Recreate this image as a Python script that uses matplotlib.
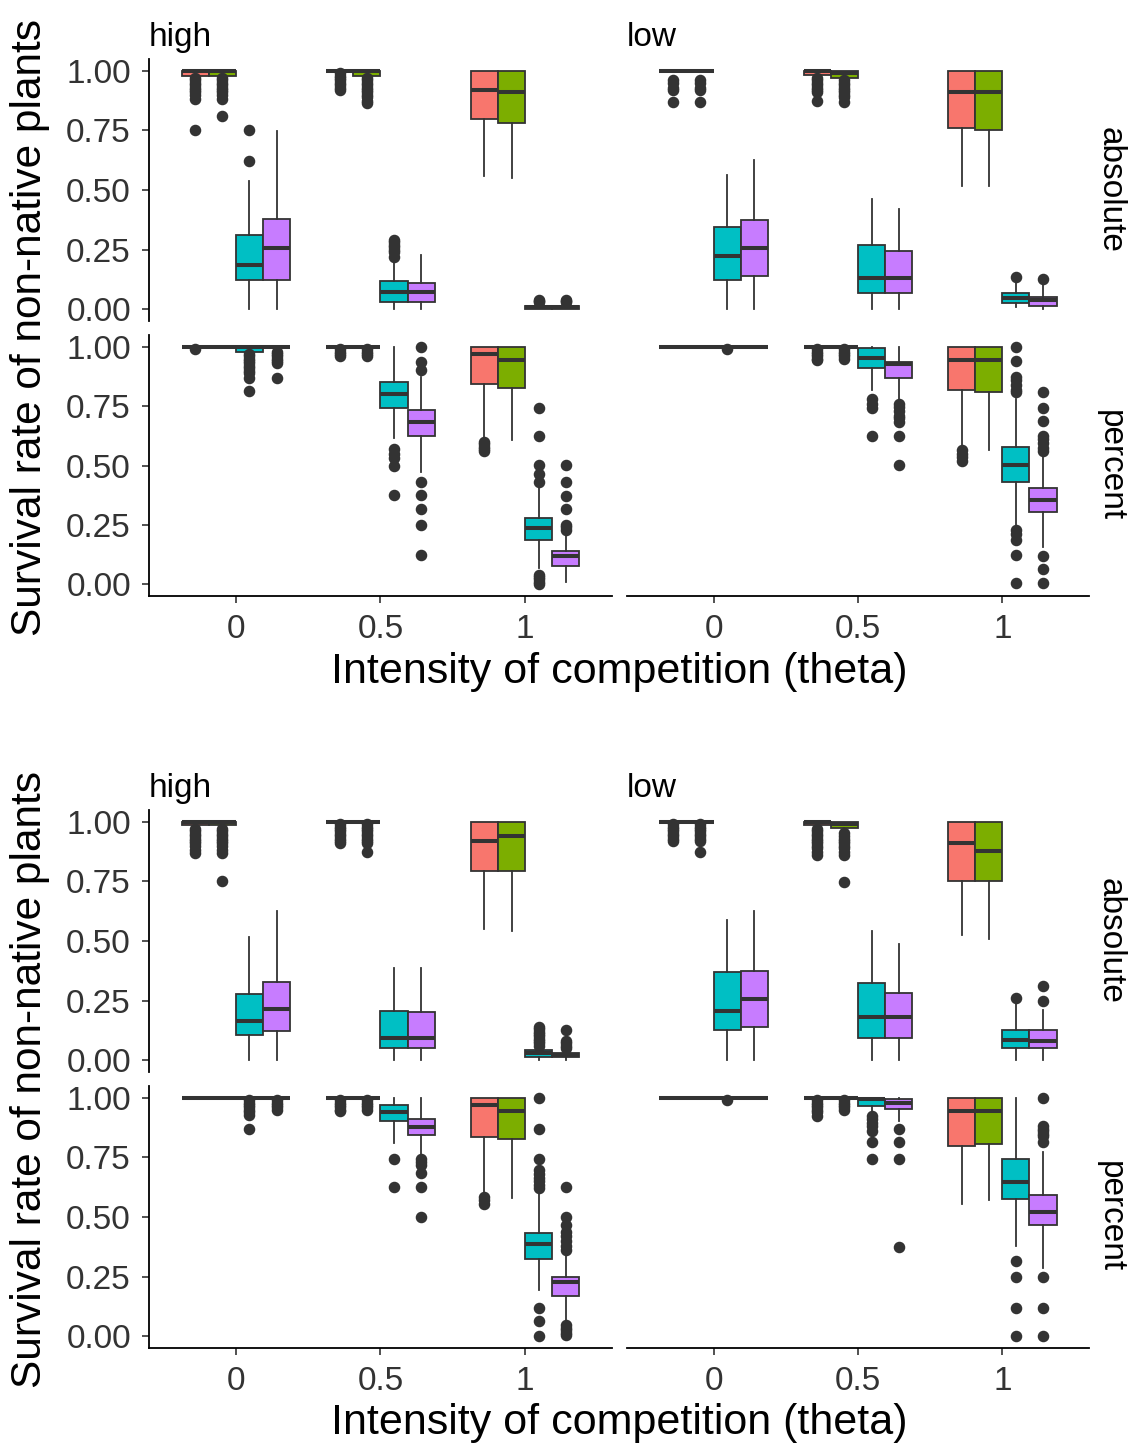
import matplotlib
matplotlib.use('Agg')
import matplotlib.pyplot as plt

plt.rcParams['font.family'] = ['Liberation Sans', 'DejaVu Sans']

# x categories (theta) and fill groups
theta = ['0', '0.5', '1']
group_colors = ['#F8766D', '#7CAE00', '#00BFC4', '#C77CFF']
y_ticks = [0.0, 0.25, 0.5, 0.75, 1.0]
y_ticklabels = ['0.00', '0.25', '0.50', '0.75', '1.00']

ONE = (1.0, 1.0, 1.0, 1.0, 1.0)

# box stats: (whislo, q1, med, q3, whishi); order = theta 0, 0.5, 1 x groups 1..4
top_abs_high_box = [
    (0.975, 0.98, 1.0, 1.0, 1.0), (0.975, 0.98, 1.0, 1.0, 1.0), (0.0, 0.124, 0.187, 0.31, 0.538), (0.0, 0.124, 0.255, 0.378, 0.748),
    ONE, (0.975, 0.98, 1.0, 1.0, 1.0), (0.0, 0.031, 0.073, 0.117, 0.21), (0.0, 0.031, 0.07, 0.108, 0.229),
    (0.558, 0.796, 0.92, 1.0, 1.0), (0.551, 0.782, 0.912, 1.0, 1.0), (0.0, 0.0, 0.01, 0.015, 0.02), (0.0, 0.0, 0.01, 0.015, 0.02),
]
top_abs_high_out = [
    [0.97, 0.96, 0.95, 0.94, 0.93, 0.92, 0.91, 0.90, 0.88, 0.75], [0.97, 0.96, 0.95, 0.94, 0.93, 0.92, 0.91, 0.90, 0.88, 0.81], [0.62, 0.75], [],
    [0.99, 0.98, 0.97, 0.96, 0.95, 0.94, 0.93, 0.92], [0.97, 0.96, 0.95, 0.94, 0.93, 0.92, 0.91, 0.90, 0.89, 0.875, 0.865], [0.22, 0.24, 0.25, 0.26, 0.27, 0.28, 0.29], [],
    [], [], [0.03, 0.035, 0.04], [0.03, 0.035, 0.04],
]
top_abs_low_box = [
    ONE, ONE, (0.0, 0.124, 0.222, 0.345, 0.565), (0.0, 0.138, 0.255, 0.376, 0.625),
    (0.975, 0.982, 1.0, 1.0, 1.0), (0.97, 0.972, 0.99, 1.0, 1.0), (0.0, 0.066, 0.129, 0.268, 0.464), (0.0, 0.066, 0.131, 0.243, 0.422),
    (0.516, 0.762, 0.912, 1.0, 1.0), (0.516, 0.754, 0.912, 1.0, 1.0), (0.01, 0.024, 0.045, 0.066, 0.108), (0.0, 0.014, 0.04, 0.052, 0.105),
]
top_abs_low_out = [
    [0.96, 0.95, 0.93, 0.92, 0.87], [0.96, 0.95, 0.93, 0.92, 0.87], [], [],
    [0.97, 0.96, 0.95, 0.94, 0.93, 0.92, 0.91, 0.874], [0.96, 0.95, 0.94, 0.93, 0.92, 0.91, 0.90, 0.89, 0.87], [], [],
    [], [], [0.133], [0.125],
]
top_pct_high_box = [
    ONE, ONE, (0.975, 0.979, 1.0, 1.0, 1.0), ONE,
    ONE, ONE, (0.617, 0.743, 0.803, 0.853, 1.0), (0.473, 0.624, 0.684, 0.736, 0.874),
    (0.62, 0.845, 0.969, 1.0, 1.0), (0.607, 0.827, 0.944, 1.0, 1.0), (0.066, 0.185, 0.235, 0.28, 0.41), (0.01, 0.076, 0.118, 0.139, 0.22),
]
top_pct_high_out = [
    [0.993], [], [0.97, 0.96, 0.95, 0.94, 0.93, 0.92, 0.91, 0.90, 0.89, 0.87, 0.813], [0.98, 0.97, 0.96, 0.95, 0.94, 0.93, 0.87],
    [0.99, 0.98, 0.97, 0.96], [0.99, 0.98, 0.97, 0.96], [0.57, 0.55, 0.53, 0.50, 0.375], [1.0, 0.937, 0.902, 0.431, 0.375, 0.315, 0.249, 0.122],
    [0.60, 0.59, 0.58, 0.57, 0.56], [], [0.744, 0.624, 0.501, 0.463, 0.431, 0.04, 0.03, 0.02, 0.01, 0.0], [0.501, 0.431, 0.372, 0.315, 0.25, 0.24, 0.23],
]
top_pct_low_box = [
    ONE, ONE, ONE, ONE,
    ONE, ONE, (0.817, 0.913, 0.951, 0.997, 1.0), (0.782, 0.869, 0.927, 0.937, 1.0),
    (0.572, 0.82, 0.944, 1.0, 1.0), (0.565, 0.81, 0.944, 1.0, 1.0), (0.249, 0.431, 0.504, 0.576, 0.782), (0.157, 0.305, 0.354, 0.407, 0.558),
]
top_pct_low_out = [
    [], [], [0.99], [],
    [0.99, 0.98, 0.97, 0.96, 0.95, 0.944], [0.99, 0.98, 0.97, 0.96, 0.95], [0.782, 0.76, 0.744, 0.624], [0.76, 0.747, 0.73, 0.71, 0.70, 0.684, 0.624, 0.501],
    [0.565, 0.55, 0.535, 0.52], [], [1.0, 0.94, 0.874, 0.86, 0.84, 0.82, 0.81, 0.228, 0.21, 0.188, 0.122, 0.003],
    [0.81, 0.744, 0.688, 0.624, 0.61, 0.593, 0.575, 0.562, 0.118, 0.062, 0.003],
]
bot_abs_high_box = [
    (0.975, 0.986, 1.0, 1.0, 1.0), (0.975, 0.986, 1.0, 1.0, 1.0), (0.0, 0.105, 0.164, 0.276, 0.515), (0.0, 0.123, 0.213, 0.327, 0.624),
    ONE, ONE, (0.0, 0.049, 0.094, 0.208, 0.386), (0.0, 0.049, 0.094, 0.2, 0.386),
    (0.551, 0.792, 0.921, 1.0, 1.0), (0.543, 0.792, 0.94, 1.0, 1.0), (0.0, 0.014, 0.028, 0.042, 0.05), (0.0, 0.014, 0.02, 0.03, 0.04),
]
bot_abs_high_out = [
    [0.97, 0.96, 0.95, 0.94, 0.93, 0.92, 0.91, 0.90, 0.88, 0.87], [0.97, 0.96, 0.95, 0.94, 0.93, 0.92, 0.91, 0.90, 0.88, 0.87, 0.75], [], [],
    [0.99, 0.98, 0.97, 0.96, 0.95, 0.94, 0.93, 0.92, 0.91], [0.99, 0.98, 0.97, 0.96, 0.95, 0.94, 0.93, 0.92, 0.91, 0.874], [], [],
    [], [], [0.06, 0.07, 0.08, 0.09, 0.10, 0.11, 0.12, 0.13, 0.14], [0.05, 0.06, 0.07, 0.08, 0.126],
]
bot_abs_low_box = [
    ONE, ONE, (0.0, 0.126, 0.206, 0.369, 0.589), (0.0, 0.14, 0.255, 0.376, 0.624),
    (0.975, 0.986, 1.0, 1.0, 1.0), (0.97, 0.975, 0.99, 1.0, 1.0), (0.0, 0.091, 0.18, 0.325, 0.54), (0.0, 0.091, 0.18, 0.283, 0.488),
    (0.526, 0.75, 0.912, 1.0, 1.0), (0.509, 0.75, 0.879, 1.0, 1.0), (0.0, 0.049, 0.084, 0.126, 0.24), (0.0, 0.049, 0.081, 0.126, 0.21),
]
bot_abs_low_out = [
    [0.99, 0.98, 0.97, 0.96, 0.95, 0.94, 0.93, 0.92], [0.99, 0.98, 0.97, 0.96, 0.95, 0.94, 0.93, 0.92, 0.874], [], [],
    [0.97, 0.96, 0.95, 0.94, 0.93, 0.92, 0.91, 0.90, 0.89, 0.875, 0.862], [0.955, 0.94, 0.93, 0.92, 0.91, 0.90, 0.89, 0.875, 0.862, 0.748], [], [],
    [], [], [0.26], [0.25, 0.311],
]
bot_pct_high_box = [
    ONE, ONE, ONE, ONE,
    ONE, ONE, (0.81, 0.904, 0.941, 0.972, 1.0), (0.754, 0.846, 0.876, 0.913, 1.0),
    (0.593, 0.836, 0.972, 1.0, 1.0), (0.581, 0.827, 0.944, 1.0, 1.0), (0.192, 0.322, 0.385, 0.431, 0.607), (0.052, 0.167, 0.228, 0.246, 0.354),
]
bot_pct_high_out = [
    [], [], [0.99, 0.98, 0.97, 0.96, 0.95, 0.94, 0.93, 0.871], [0.99, 0.98, 0.97, 0.96, 0.95],
    [0.99, 0.98, 0.97, 0.96, 0.95, 0.944], [0.99, 0.98, 0.97, 0.96, 0.95], [0.744, 0.625], [0.744, 0.73, 0.72, 0.684, 0.625, 0.499],
    [0.585, 0.57, 0.555], [], [1.0, 0.871, 0.744, 0.698, 0.68, 0.665, 0.65, 0.635, 0.62, 0.119, 0.063, 0.0],
    [0.628, 0.501, 0.466, 0.438, 0.42, 0.40, 0.38, 0.361, 0.045, 0.035, 0.025, 0.015, 0.005],
]
bot_pct_low_box = [
    ONE, ONE, ONE, ONE,
    ONE, ONE, (0.937, 0.965, 0.995, 0.997, 1.0), (0.902, 0.954, 0.979, 0.997, 1.0),
    (0.555, 0.796, 0.944, 1.0, 1.0), (0.572, 0.806, 0.944, 1.0, 1.0), (0.378, 0.574, 0.649, 0.744, 1.0), (0.284, 0.466, 0.522, 0.593, 0.775),
]
bot_pct_low_out = [
    [], [], [0.99], [],
    [0.99, 0.98, 0.97, 0.96, 0.95, 0.94, 0.923], [0.99, 0.98, 0.97, 0.96, 0.95], [0.923, 0.91, 0.895, 0.88, 0.86, 0.813, 0.744], [0.871, 0.813, 0.744, 0.372],
    [], [], [0.315, 0.249, 0.119, 0.0], [1.0, 0.88, 0.87, 0.86, 0.85, 0.84, 0.813, 0.249, 0.119, 0.0],
]

W, H = 1136, 1445
EDGE = '#333333'
fig = plt.figure(figsize=(W / 100, H / 100), dpi=100)


def px_axes(x0, y0, x1, y1):
    return fig.add_axes([x0 / W, 1 - y1 / H, (x1 - x0) / W, (y1 - y0) / H])


def draw_panel(ax, boxes, outs, left, bottom):
    stats = []
    pos = []
    for i, (b, o) in enumerate(zip(boxes, outs)):
        cat = i // 4
        g = i % 4
        stats.append(dict(whislo=b[0], q1=b[1], med=b[2], q3=b[3], whishi=b[4], fliers=o))
        pos.append(cat + 1 + (g - 1.5) * 0.1875)
    bp = ax.bxp(stats, positions=pos, widths=0.1875, patch_artist=True, showcaps=False,
                boxprops=dict(edgecolor=EDGE, linewidth=1.3),
                whiskerprops=dict(color=EDGE, linewidth=1.3),
                medianprops=dict(color=EDGE, linewidth=2.9, solid_capstyle='butt'),
                flierprops=dict(marker='o', markerfacecolor=EDGE, markeredgecolor=EDGE, markersize=7.3))
    for i, patch in enumerate(bp['boxes']):
        patch.set_facecolor(group_colors[i % 4])
    ax.set_xlim(0.4, 3.6)
    ax.set_ylim(-0.05, 1.05)
    for s in ['top', 'right']:
        ax.spines[s].set_visible(False)
    ax.spines['left'].set_visible(left)
    ax.spines['bottom'].set_visible(bottom)
    for s in ['left', 'bottom']:
        ax.spines[s].set_linewidth(1.3)
        ax.spines[s].set_color('black')
    ax.set_xticks([1, 2, 3])
    ax.set_yticks(y_ticks)
    if bottom:
        ax.set_xticklabels(theta)
    ax.tick_params(axis='x', bottom=bottom, labelbottom=bottom, length=5, width=1.2,
                   color=EDGE, labelsize=24, labelcolor='#333333', pad=8)
    if left:
        ax.set_yticklabels(y_ticklabels)
    ax.tick_params(axis='y', left=left, labelleft=left, length=5, width=1.2,
                   color=EDGE, labelsize=24, labelcolor='#333333', pad=8)
    ax.patch.set_alpha(0)


cols = [(149, 612), (627, 1089)]
charts = [
    {'rows': [(59, 321), (335, 596)], 'off': 0,
     'data': [[(top_abs_high_box, top_abs_high_out), (top_abs_low_box, top_abs_low_out)],
              [(top_pct_high_box, top_pct_high_out), (top_pct_low_box, top_pct_low_out)]]},
    {'rows': [(810, 1072), (1086, 1348)], 'off': 751,
     'data': [[(bot_abs_high_box, bot_abs_high_out), (bot_abs_low_box, bot_abs_low_out)],
              [(bot_pct_high_box, bot_pct_high_out), (bot_pct_low_box, bot_pct_low_out)]]},
]
row_names = ['absolute', 'percent']
col_names = ['high', 'low']

for ch in charts:
    for r, (y0, y1) in enumerate(ch['rows']):
        for c, (x0, x1) in enumerate(cols):
            ax = px_axes(x0, y0, x1, y1)
            boxes, outs = ch['data'][r][c]
            draw_panel(ax, boxes, outs, left=(c == 0), bottom=(r == 1))
        fig.text(1110 / W, 1 - (y0 + y1) / 2 / H, row_names[r], rotation=-90,
                 ha='center', va='center', fontsize=24, color='black')
    off = ch['off']
    for c, (x0, x1) in enumerate(cols):
        fig.text(x0 / W, 1 - (46 + off) / H, col_names[c], ha='left', va='baseline',
                 fontsize=24, color='black')
    top = ch['rows'][0][0]
    bot = ch['rows'][1][1]
    fig.text(30 / W, 1 - (top + bot) / 2 / H, 'Survival rate of non-native plants',
             rotation=90, ha='center', va='center', fontsize=30.5, color='black')
    fig.text((cols[0][0] + cols[1][1]) / 2 / W, 1 - (672 + off) / H,
             'Intensity of competition (theta)', ha='center', va='center',
             fontsize=31, color='black')

fig.savefig('out.png', dpi=100, facecolor='white')
